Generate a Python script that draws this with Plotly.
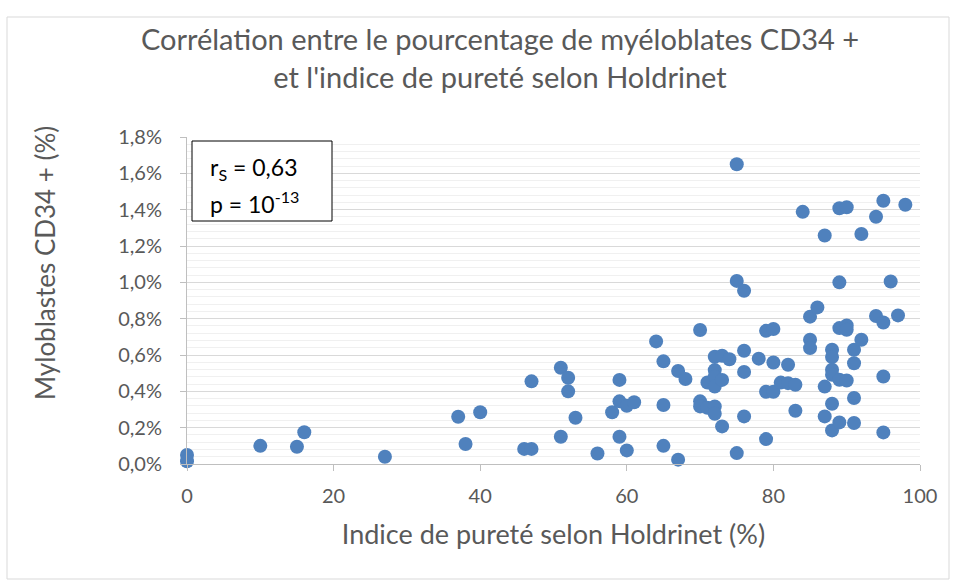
import plotly.graph_objects as go

# Data
purity_index = [0, 0, 10, 15, 16, 27, 37, 38, 40, 46, 47, 47, 51, 51, 52, 52, 53, 56, 58,
                59, 59, 59, 60, 60, 61, 64, 65, 65, 65, 67, 67, 68, 70, 70, 70, 71, 71,
                72, 72, 72, 72, 72, 72, 73, 73, 73, 74, 75, 75, 75, 76, 76, 76, 76, 78,
                79, 79, 79, 80, 80, 80, 81, 82, 82, 83, 83, 84, 85, 85, 85, 86, 87, 87,
                87, 88, 88, 88, 88, 88, 88, 89, 89, 89, 89, 89, 90, 90, 90, 90, 91, 91,
                91, 91, 92, 92, 94, 94, 95, 95, 95, 95, 96, 97, 98]
cd34_pct = [0.05, 0.015, 0.10, 0.095, 0.175, 0.04, 0.26, 0.11, 0.285, 0.083, 0.083, 0.455,
            0.53, 0.15, 0.475, 0.40, 0.255, 0.058, 0.285, 0.463, 0.345, 0.15, 0.32, 0.075,
            0.34, 0.675, 0.565, 0.325, 0.10, 0.512, 0.024, 0.468, 0.738, 0.345, 0.317,
            0.449, 0.31, 0.59, 0.517, 0.48, 0.426, 0.317, 0.277, 0.596, 0.463, 0.207,
            0.577, 1.65, 1.008, 0.06, 0.954, 0.623, 0.507, 0.262, 0.58, 0.733, 0.398,
            0.137, 0.743, 0.559, 0.398, 0.448, 0.546, 0.445, 0.436, 0.293, 1.388, 0.811,
            0.684, 0.638, 0.862, 1.258, 0.426, 0.262, 0.629, 0.589, 0.519, 0.491, 0.332,
            0.185, 1.408, 1.0, 0.748, 0.464, 0.229, 1.413, 0.763, 0.739, 0.46, 0.629,
            0.555, 0.363, 0.226, 1.266, 0.684, 1.361, 0.815, 1.449, 0.779, 0.482, 0.174,
            1.005, 0.818, 1.427]

x_ticks = [0, 20, 40, 60, 80, 100]
y_ticks = [0.0, 0.2, 0.4, 0.6, 0.8, 1.0, 1.2, 1.4, 1.6, 1.8]
y_tick_labels = ["0,0%", "0,2%", "0,4%", "0,6%", "0,8%", "1,0%", "1,2%", "1,4%", "1,6%", "1,8%"]

title_text = "Corrélation entre le pourcentage de myéloblates CD34 +<br>et l'indice de pureté selon Holdrinet"
x_title = "Indice de pureté selon Holdrinet (%)"
y_title = "Myloblastes CD34 + (%)"
rs_text = "r<sub>S</sub> = 0,63"
p_text = "p = 10<sup>-13</sup>"

FONT = "Lato"
GREY = "#595959"

fig = go.Figure()
fig.add_trace(go.Scatter(
    x=purity_index, y=cd34_pct, mode="markers",
    marker=dict(size=14, color="#4f81bd", line=dict(width=0)),
    cliponaxis=False, showlegend=False,
))

W, H = 960, 581
L, R, T, B = 187, 40, 137, 117

fig.update_layout(
    width=W, height=H,
    margin=dict(l=L, r=R, t=T, b=B, autoexpand=False),
    paper_bgcolor="white", plot_bgcolor="white",
    separators=", ",
    font=dict(family=FONT, color=GREY),
    title=dict(text=title_text, x=500 / W, xanchor="center", xref="container",
               y=1 - 50 / H, yanchor="middle", yref="container", automargin=False,
               font=dict(family=FONT, size=29, color=GREY)),
    xaxis=dict(range=[0, 100], tickvals=x_ticks, showgrid=False, zeroline=False,
               automargin=False,
               showline=True, linecolor="#bfbfbf", linewidth=1,
               ticks="outside", ticklen=6, tickcolor="#bfbfbf",
               tickfont=dict(size=20, color=GREY), ticklabelstandoff=8,
               title=dict(text=x_title, font=dict(size=27, color=GREY), standoff=19)),
    yaxis=dict(range=[0, 1.8], tickvals=y_ticks, ticktext=y_tick_labels,
               showgrid=True, gridcolor="#d9d9d9", gridwidth=1, zeroline=False,
               automargin=False,
               showline=True, linecolor="#bfbfbf", linewidth=1,
               ticks="outside", ticklen=6, tickcolor="#bfbfbf",
               tickfont=dict(size=20, color=GREY), ticklabelstandoff=14,
               minor=dict(dtick=0.04, showgrid=True, gridcolor="#f0f0f0", gridwidth=1)),
)

pw, ph = W - L - R, H - T - B
px = lambda v: (v - L) / pw
py = lambda v: (H - B - v) / ph

# y-axis title (placed like the reference, slightly above the plot centre)
fig.add_annotation(text=y_title, xref="paper", yref="paper", x=px(45), y=py(263),
                   xanchor="center", yanchor="middle", textangle=-90, showarrow=False,
                   font=dict(family=FONT, size=26, color=GREY))

# outer chart border
fig.add_shape(type="rect", xref="paper", yref="paper",
              x0=px(7), x1=px(949), y0=py(579), y1=py(17),
              line=dict(color="#d9d9d9", width=1), fillcolor="rgba(0,0,0,0)", layer="below")

# statistics box
fig.add_shape(type="rect", xref="paper", yref="paper",
              x0=px(192), x1=px(332), y0=py(221), y1=py(141),
              line=dict(color="black", width=1), fillcolor="white", layer="above")
fig.add_annotation(text=rs_text, xref="paper", yref="paper", x=px(208), y=py(168),
                   xanchor="left", yanchor="middle", showarrow=False,
                   font=dict(family=FONT, size=23, color="black"))
fig.add_annotation(text=p_text, xref="paper", yref="paper", x=px(208), y=py(202),
                   xanchor="left", yanchor="middle", showarrow=False,
                   font=dict(family=FONT, size=23, color="black"))

fig.write_html("out.html", config={"displayModeBar": False},
               post_script="document.body.style.margin='0';document.body.style.overflow='hidden';")
